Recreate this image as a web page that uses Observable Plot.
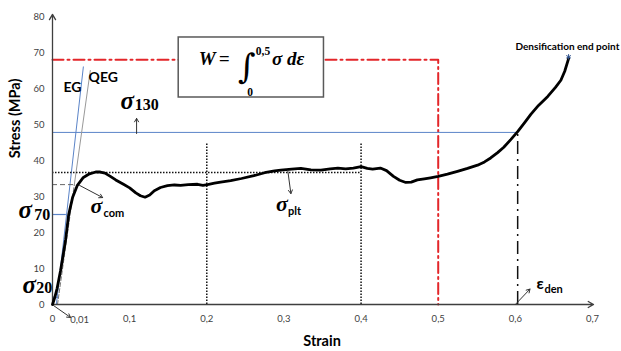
<!DOCTYPE html>
<html>
<head>
<meta charset="utf-8">
<script src="https://cdn.jsdelivr.net/npm/d3@7"></script>
<script src="https://cdn.jsdelivr.net/npm/@observablehq/plot@0.6"></script>
<style>
  html, body { margin: 0; padding: 0; background: #fff; }
</style>
</head>
<body>
<script>
// ---- data ----
const strain = [0, 0.003, 0.006, 0.0104, 0.014, 0.017, 0.021, 0.026, 0.032, 0.04, 0.048, 0.056, 0.062, 0.068, 0.075, 0.082, 0.092, 0.1, 0.108, 0.114, 0.12, 0.126, 0.132, 0.14, 0.149, 0.158, 0.166, 0.176, 0.188, 0.195, 0.201, 0.21, 0.218, 0.231, 0.245, 0.261, 0.275, 0.288, 0.296, 0.31, 0.322, 0.335, 0.348, 0.36, 0.37, 0.38, 0.39, 0.4, 0.408, 0.415, 0.425, 0.433, 0.442, 0.45, 0.458, 0.465, 0.473, 0.482, 0.49, 0.5, 0.512, 0.525, 0.538, 0.551, 0.56, 0.568, 0.577, 0.585, 0.594, 0.603, 0.612, 0.62, 0.63, 0.642, 0.652, 0.659, 0.664, 0.669];
const stress = [0, 2, 4.5, 9.4, 14, 18, 25, 29.7, 33, 35.3, 36.3, 36.8, 36.8, 36.5, 35.6, 34.6, 33.4, 32.4, 31, 30.2, 29.8, 30.4, 31.6, 32.5, 33, 33.2, 33.1, 33.3, 33.4, 33.1, 33.3, 33.7, 34, 34.4, 35, 35.8, 36.6, 37.1, 37.3, 37.6, 37.8, 37.4, 37.3, 37.7, 37.9, 37.7, 37.9, 38.3, 37.8, 37.6, 37.9, 37.2, 35.6, 34.5, 33.9, 34, 34.6, 34.9, 35.2, 35.6, 36.2, 37, 37.8, 38.7, 39.6, 40.7, 42.2, 43.7, 45.8, 48, 50.5, 52.8, 55.3, 57.8, 60.3, 62.3, 64.8, 68.3];

const xTicks = [0, 0.1, 0.2, 0.3, 0.4, 0.5, 0.6, 0.7];
const yTicks = [0, 10, 20, 30, 40, 50, 60, 70, 80];

// reference levels (MPa) and strains
const wLevel = 68;          // red dash-dot level
const wLimit = 0.5;         // integration limit
const sigma130 = 47.8;
const epsDen = 0.603;
const sigmaPlt = 36.7;
const pltStart = 0.2, pltEnd = 0.4, pltTop = 44.7;
const sigmaCom = 33.3;
const sigma70 = 25;
const sigma20 = 2;
const egLine = [[0.005, 0], [0.040, 66]];
const qegLow = [[0.0065, 0], [0.0283, 33.3]];
const qegHigh = [[0.0283, 33.3], [0.049, 65]];

const curve = strain.map((x, i) => ({x, y: stress[i]}));
const comma = d => String(d).replace(".", ",");

const BLUE = "#5b84c8", RED = "#e3262a", DARK = "#3f3f3f";
const SERIF = "Liberation Serif";

const sig = (x, y, fs) => ({x, y, text: "σ", fs});

const chart = Plot.plot({
  width: 621,
  height: 351,
  marginLeft: 52,
  marginRight: 29,
  marginTop: 16,
  marginBottom: 47,
  x: {domain: [0, 0.7], label: null},
  y: {domain: [0, 80], label: null},
  style: {fontFamily: "Lato", background: "#fff", overflow: "visible"},
  marks: [
    // tick labels
    Plot.axisX(xTicks, {tickSize: 0, tickPadding: 11, tickFormat: comma, fontSize: 9.5, fill: DARK, label: null}),
    Plot.axisY(yTicks, {tickSize: 0, tickPadding: 8, fontSize: 9.5, fill: DARK, label: null}),
    // red dash-dot W limit
    Plot.line([{x: 0, y: wLevel}, {x: wLimit, y: wLevel}, {x: wLimit, y: 0}], {x: "x", y: "y", stroke: RED, strokeWidth: 2, strokeDasharray: "11,4,2,4"}),
    // formula box
    Plot.rect([{x1: 0.1636, x2: 0.3519, y1: 57.5, y2: 74.17}], {x1: "x1", x2: "x2", y1: "y1", y2: "y2", fill: "#fff", stroke: "#595959", strokeWidth: 1.5}),
    // blue sigma lines
    Plot.ruleY([sigma130], {x1: 0, x2: epsDen, stroke: BLUE, strokeWidth: 1}),
    Plot.ruleY([sigma70], {x1: 0, x2: 0.018, stroke: BLUE, strokeWidth: 1.2}),
    Plot.ruleY([sigma20], {x1: 0, x2: 0.008, stroke: BLUE, strokeWidth: 1.2}),
    Plot.line(egLine, {stroke: BLUE, strokeWidth: 1}),
    Plot.line(qegLow, {stroke: "#777", strokeWidth: 1, strokeDasharray: "4,2"}),
    Plot.line(qegHigh, {stroke: "#999", strokeWidth: 1}),
    // dotted plateau guides
    Plot.ruleY([sigmaPlt], {x1: 0, x2: pltEnd, stroke: "#111", strokeWidth: 1.5, strokeDasharray: "1.5,1.5"}),
    Plot.ruleX([pltStart, pltEnd], {y1: 0, y2: pltTop, stroke: "#111", strokeWidth: 1.5, strokeDasharray: "1.5,1.5"}),
    Plot.ruleY([sigmaCom], {x1: 0, x2: 0.0283, stroke: "#666", strokeWidth: 1, strokeDasharray: "5,3"}),
    // densification strain
    Plot.ruleX([epsDen], {y1: 0, y2: sigma130, stroke: "#111", strokeWidth: 1.5, strokeDasharray: "13,5,2,5"}),
    // axes with arrows
    Plot.arrow([{x1: 0, y1: 0, x2: 0.7013, y2: 0}], {x1: "x1", y1: "y1", x2: "x2", y2: "y2", stroke: DARK, strokeWidth: 1.3, headLength: 7}),
    Plot.arrow([{x1: 0, y1: 0, x2: 0, y2: 80.6}], {x1: "x1", y1: "y1", x2: "x2", y2: "y2", stroke: DARK, strokeWidth: 1.3, headLength: 7}),
    // stress-strain curve
    Plot.line(curve, {x: "x", y: "y", stroke: "#000", strokeWidth: 2.8, strokeLinejoin: "round"}),
    // annotation arrows
    Plot.arrow([
      {x1: 0.109, y1: 47.5, x2: 0.109, y2: 51.7},
      {x1: 0.035, y1: 33.1, x2: 0.065, y2: 29.7},
      {x1: 0.305, y1: 37.2, x2: 0.309, y2: 30.8},
      {x1: 0.6, y1: 0, x2: 0.619, y2: 4.3},
      {x1: 0.0013, y1: -0.28, x2: 0.0234, y2: -3.6}
    ], {x1: "x1", y1: "y1", x2: "x2", y2: "y2", stroke: "#333", strokeWidth: 1, headLength: 6}),
    // end point marker
    Plot.dot([{x: 0.669, y: 68.8}], {x: "x", y: "y", symbol: "asterisk", r: 2.5, stroke: "#2c4f8a", strokeWidth: 1}),
    // sigma glyphs
    Plot.text([sig(0.0883, 54.44, 25), sig(-0.0442, 23.89, 25), sig(-0.039, 3.33, 25), sig(0.0494, 25.28, 22), sig(0.2896, 26.11, 22)],
      {x: "x", y: "y", text: "text", fontSize: d => d.fs, fontFamily: SERIF, fontStyle: "italic", fontWeight: "bold", textAnchor: "start", lineAnchor: "bottom", fill: "#000"}),
    // serif subscripts
    Plot.text([{x: 0.1065, y: 53.89, t: "130"}, {x: -0.0237, y: 23.61, t: "70"}, {x: -0.0211, y: 3.06, t: "20"}],
      {x: "x", y: "y", text: "t", fontSize: 16, fontFamily: SERIF, fontWeight: "bold", textAnchor: "start", lineAnchor: "bottom", fill: "#000"}),
    // sans subscripts
    Plot.text([{x: 0.0662, y: 24.17, t: "com"}, {x: 0.3052, y: 25, t: "plt"}, {x: 0.6377, y: 3.33, t: "den"}],
      {x: "x", y: "y", text: "t", fontSize: 11, fontWeight: "bold", textAnchor: "start", lineAnchor: "bottom", fill: "#000"}),
    Plot.text([{x: 0.6273, y: 4.44, t: "ε"}],
      {x: "x", y: "y", text: "t", fontSize: 16, fontWeight: "bold", textAnchor: "start", lineAnchor: "bottom", fill: "#000"}),
    // EG / QEG
    Plot.text([{x: 0.0143, y: 58.89, t: "EG"}, {x: 0.0468, y: 61.94, t: "QEG"}],
      {x: "x", y: "y", text: "t", fontSize: 14, fontWeight: "bold", textAnchor: "start", lineAnchor: "bottom", fill: "#000"}),
    Plot.text([{x: 0.6675, y: 70.56, t: "Densification end point"}],
      {x: "x", y: "y", text: "t", fontSize: 10, fontWeight: "bold", textAnchor: "middle", lineAnchor: "bottom", fill: "#000"}),
    // formula
    Plot.text([{x: 0.1896, y: 66.39, t: "W"}, {x: 0.2156, y: 66.39, t: "="}, {x: 0.2845, y: 66.39, t: "σ dε"}],
      {x: "x", y: "y", text: "t", fontSize: 19, fontFamily: SERIF, fontStyle: "italic", fontWeight: "bold", textAnchor: "start", lineAnchor: "bottom", fill: "#000"}),
    Plot.text([{x: 0.2405, y: 62.8, t: "∫"}],
      {x: "x", y: "y", text: "t", fontSize: 34, fontFamily: "DejaVu Serif", fontStyle: "italic", textAnchor: "start", lineAnchor: "bottom", fill: "#000"}),
    Plot.text([{x: 0.2635, y: 69.4, t: "0,5"}, {x: 0.2525, y: 57.9, t: "0"}],
      {x: "x", y: "y", text: "t", fontSize: 11.5, fontFamily: SERIF, fontWeight: "bold", textAnchor: "start", lineAnchor: "bottom", fill: "#000"}),
    // axis titles
    Plot.text([{x: 0.3494, y: -10.28, t: "Strain"}],
      {x: "x", y: "y", text: "t", fontSize: 14.5, fontWeight: "bold", textAnchor: "middle", lineAnchor: "middle", fill: "#000"}),
    Plot.text([{x: -0.048, y: 51.67, t: "Stress (MPa)"}],
      {x: "x", y: "y", text: "t", fontSize: 14.5, fontWeight: "bold", rotate: -90, textAnchor: "middle", lineAnchor: "middle", fill: "#000"}),
    Plot.text([{x: 0.0351, y: -4.2, t: "0,01"}],
      {x: "x", y: "y", text: "t", fontSize: 9.5, textAnchor: "middle", lineAnchor: "middle", fill: DARK})
  ]
});
document.body.appendChild(chart);
</script>
</body>
</html>
